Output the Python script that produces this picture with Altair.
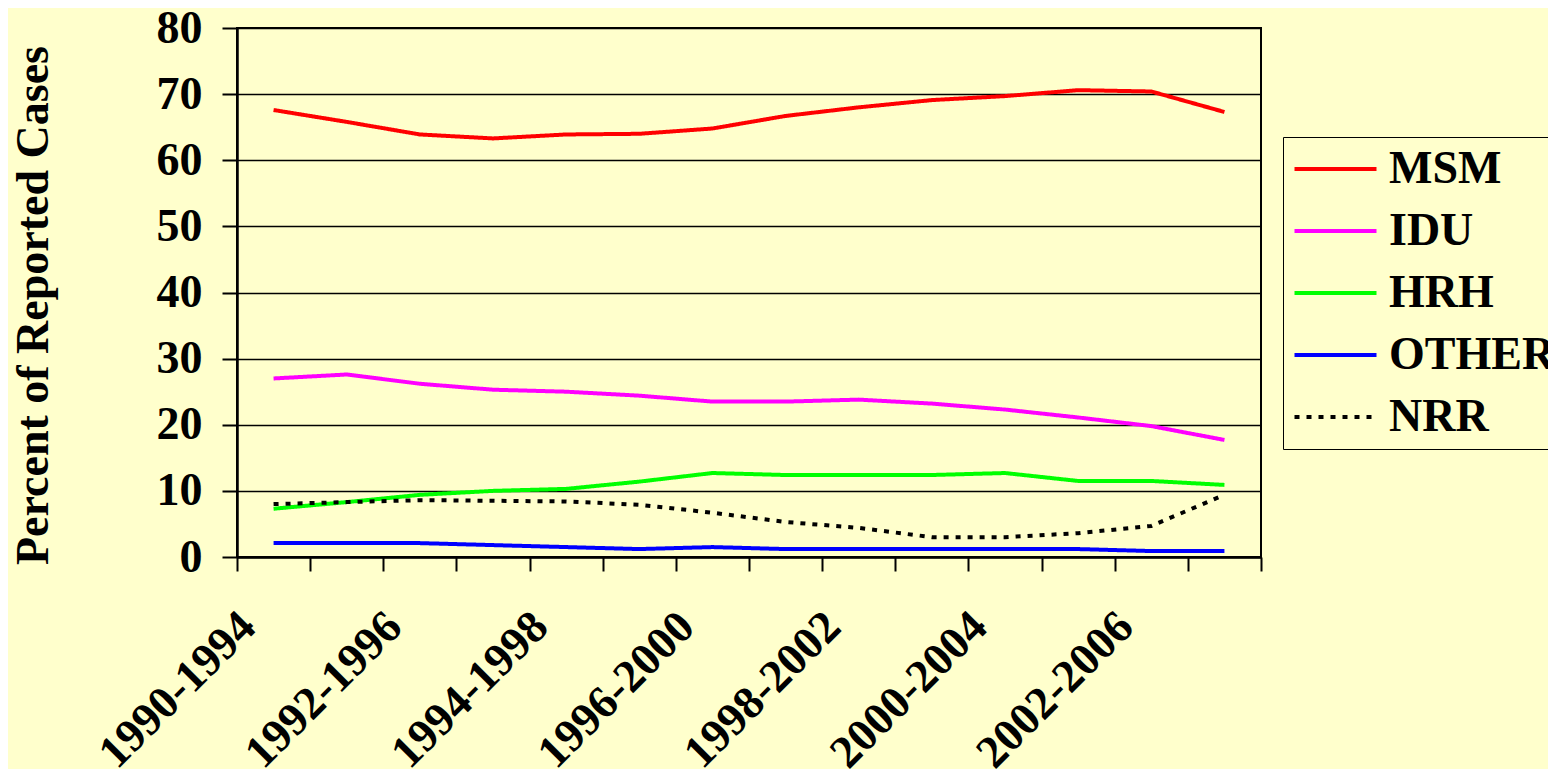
import altair as alt
import pandas as pd

periods = ["1990-1994", "1991-1995", "1992-1996", "1993-1997", "1994-1998",
           "1995-1999", "1996-2000", "1997-2001", "1998-2002", "1999-2003",
           "2000-2004", "2001-2005", "2002-2006", "2003-2007"]
series_names = ["MSM", "IDU", "HRH", "OTHER", "NRR"]
msm = [67.6, 65.8, 63.9, 63.3, 63.9, 64.0, 64.8, 66.7, 68.0, 69.1, 69.7, 70.6, 70.4, 67.3]
idu = [27.0, 27.6, 26.2, 25.3, 25.0, 24.4, 23.5, 23.5, 23.8, 23.2, 22.3, 21.1, 19.8, 17.7]
hrh = [7.3, 8.3, 9.4, 10.0, 10.3, 11.4, 12.7, 12.4, 12.4, 12.4, 12.7, 11.5, 11.5, 10.9]
other = [2.1, 2.1, 2.1, 1.8, 1.5, 1.2, 1.5, 1.2, 1.2, 1.2, 1.2, 1.2, 0.9, 0.9]
nrr = [8.0, 8.3, 8.6, 8.5, 8.4, 7.9, 6.7, 5.3, 4.4, 3.0, 3.0, 3.6, 4.7, 9.4]

colors = ["#FF0000", "#FF00FF", "#00FF00", "#0000FF", "#000000"]
dashes = [[1, 0], [1, 0], [1, 0], [1, 0], [5, 7]]
widths = [4, 4, 4, 4, 2.5]

rows = []
for name, vals in zip(series_names, [msm, idu, hrh, other, nrr]):
    for p, v in zip(periods, vals):
        rows.append({"period": p, "group": name, "value": v})
df = pd.DataFrame(rows)

BG = "#FFFFCC"
FONT = "Liberation Serif"

legend = alt.Legend(
    title=None, orient="none", legendX=1046, legendY=109,
    symbolType="M-1,0H3", symbolSize=1681, symbolStrokeWidth=4,
    labelFont=FONT, labelFontSize=46, labelFontWeight="bold", labelColor="black",
    labelOffset=51, rowPadding=16, padding=9,
    strokeColor="black", fillColor=BG, labelLimit=400,
)

chart = alt.Chart(df).mark_line().encode(
    x=alt.X("period:N", sort=periods, scale=alt.Scale(paddingInner=0, paddingOuter=0),
            axis=alt.Axis(title=None, labelAngle=315, labelAlign="right", labelBaseline="middle",
                          labelExpr="toNumber(substring(datum.label, 0, 4)) % 2 === 0 ? datum.label : ''",
                          tickBand="extent", tickSize=14, tickWidth=2, tickColor="black",
                          domainColor="black", domainWidth=2.5, grid=False,
                          labelFont=FONT, labelFontSize=46, labelFontWeight="bold",
                          labelColor="black", labelPadding=48, labelOffset=-26,
                          labelLimit=600, labelOverlap=False)),
    y=alt.Y("value:Q", scale=alt.Scale(domain=[0, 80]),
            axis=alt.Axis(title="Percent of Reported Cases", values=[0, 10, 20, 30, 40, 50, 60, 70, 80],
                          tickSize=15, tickWidth=2, tickColor="black",
                          domainColor="black", domainWidth=2.5,
                          gridColor="black", gridWidth=1.5, gridOpacity=1,
                          labelFont=FONT, labelFontSize=46, labelFontWeight="bold",
                          labelColor="black", labelPadding=20,
                          titleFont=FONT, titleFontSize=46, titleFontWeight="bold",
                          titleColor="black", titleAngle=270, titleX=-204, titleY=277,
                          titleAlign="center", titleBaseline="middle")),
    color=alt.Color("group:N", sort=series_names,
                    scale=alt.Scale(domain=series_names, range=colors), legend=legend),
    strokeDash=alt.StrokeDash("group:N", sort=series_names,
                              scale=alt.Scale(domain=series_names, range=dashes), legend=legend),
    strokeWidth=alt.StrokeWidth("group:N", sort=series_names,
                                scale=alt.Scale(domain=series_names, range=widths), legend=legend),
).properties(
    width=1024, height=529,
    background=BG,
    padding={"left": 229, "top": 20, "right": 287, "bottom": 212},
    autosize=alt.AutoSizeParams(type="none"),
).configure_view(
    stroke="black", strokeWidth=2, fill=BG
)

chart.save("out.html", embed_options={"renderer": "svg", "actions": False})
